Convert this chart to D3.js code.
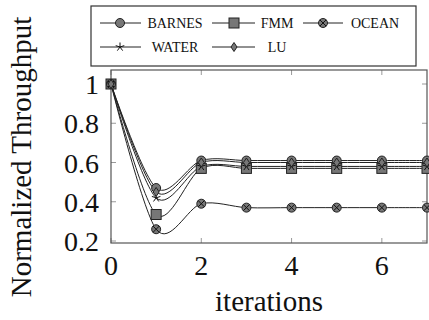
<!DOCTYPE html>
<html><head><meta charset="utf-8">
<script src="https://cdn.jsdelivr.net/npm/d3@7"></script>
<style>body{margin:0;background:#fff}svg{display:block}</style>
</head><body>
<svg id="c" width="429" height="320"></svg>
<script>
const iterations = [0,1,2,3,4,5,6,7];
const seriesNames = ["BARNES","FMM","OCEAN","WATER","LU"];
const barnes = [1,0.47,0.61,0.61,0.61,0.61,0.61,0.61];
const fmm    = [1,0.335,0.57,0.57,0.57,0.57,0.57,0.57];
const ocean  = [1,0.26,0.39,0.37,0.37,0.37,0.37,0.37];
const water  = [1,0.42,0.58,0.58,0.58,0.58,0.58,0.58];
const lu     = [1,0.45,0.60,0.60,0.60,0.60,0.60,0.60];
const xTicks = [0,2,4,6];
const yTicks = [0.2,0.4,0.6,0.8,1];
const yTickLabels = ["0.2","0.4","0.6","0.8","1"];
const markers = ["circle","square","otimes","star","diamond"];
const values = [barnes,fmm,ocean,water,lu];

const svg = d3.select("#c");
const L=111,R=427,T=70,B=243;
const x = d3.scaleLinear().domain([0,7]).range([L,R]);
const y = d3.scaleLinear().domain([0.2,1]).range([241,84]);
const font="'Liberation Serif','Times New Roman',serif";
const tickCol="#999", axisCol="#555";

// ticks (inward)
const g=svg.append("g");
xTicks.forEach(t=>{
  g.append("line").attr("x1",x(t)).attr("x2",x(t)).attr("y1",B).attr("y2",B-5).attr("stroke",tickCol);
  g.append("line").attr("x1",x(t)).attr("x2",x(t)).attr("y1",T).attr("y2",T+5).attr("stroke",tickCol);
  g.append("text").attr("x",x(t)).attr("y",275).attr("text-anchor","middle")
   .attr("font-family",font).attr("font-size",28).attr("fill","#111").text(t);
});
yTicks.forEach((t,i)=>{
  g.append("line").attr("x1",L).attr("x2",L+5).attr("y1",y(t)).attr("y2",y(t)).attr("stroke",tickCol);
  g.append("line").attr("x1",R-5).attr("x2",R).attr("y1",y(t)).attr("y2",y(t)).attr("stroke",tickCol);
  g.append("text").attr("x",99).attr("y",y(t)+10).attr("text-anchor","end")
   .attr("font-family",font).attr("font-size",28).attr("fill","#111").text(yTickLabels[i]);
});
svg.append("rect").attr("x",L).attr("y",T).attr("width",R-L).attr("height",B-T)
  .attr("fill","none").attr("stroke",axisCol).attr("stroke-width",1.2);

function drawMarker(sel,type,cx,cy){
  const st={stroke:"#222","stroke-width":1,fill:"#777"};
  const a=(e)=>{Object.entries(st).forEach(([k,v])=>e.attr(k,v));return e;};
  if(type==="circle"){a(sel.append("circle").attr("cx",cx).attr("cy",cy).attr("r",4.5));}
  else if(type==="square"){a(sel.append("rect").attr("x",cx-5).attr("y",cy-5).attr("width",10).attr("height",10));}
  else if(type==="otimes"){a(sel.append("circle").attr("cx",cx).attr("cy",cy).attr("r",4.5));
    const d=3.2;
    sel.append("path").attr("d",`M${cx-d},${cy-d}L${cx+d},${cy+d}M${cx-d},${cy+d}L${cx+d},${cy-d}`).attr("stroke","#111").attr("stroke-width",1);}
  else if(type==="star"){let p="";for(let k=0;k<5;k++){const an=-Math.PI/2+k*2*Math.PI/5;p+=`M${cx},${cy}L${cx+4.5*Math.cos(an)},${cy+4.5*Math.sin(an)}`;}
    sel.append("path").attr("d",p).attr("stroke","#111").attr("stroke-width",1);}
  else if(type==="diamond"){a(sel.append("path").attr("d",`M${cx},${cy-4.5}L${cx+3},${cy}L${cx},${cy+4.5}L${cx-3},${cy}Z`));}
}

const line=d3.line().x((d,i)=>x(iterations[i])).y(d=>y(d)).curve(d3.curveCardinal.tension(0.1));
values.forEach((v,si)=>{
  svg.append("path").attr("d",line(v)).attr("fill","none").attr("stroke","#222").attr("stroke-width",1);
});
values.forEach((v,si)=>{
  const mg=svg.append("g");
  v.forEach((d,i)=>drawMarker(mg,markers[si],x(iterations[i]),y(d)));
});

// legend
svg.append("rect").attr("x",91).attr("y",6).attr("width",325).attr("height",60)
  .attr("fill","#fff").attr("stroke","#333").attr("stroke-width",1.2);
const cols=[{l:100,r:141,m:120,t:175},{l:212,r:255,m:234,t:277},{l:303,r:343,m:323,t:375}];
const rows=[23,47];
seriesNames.forEach((n,i)=>{
  const c=cols[i%3], ry=rows[Math.floor(i/3)];
  svg.append("line").attr("x1",c.l).attr("x2",c.r).attr("y1",ry).attr("y2",ry).attr("stroke","#222");
  drawMarker(svg,markers[i],c.m,ry);
  svg.append("text").attr("x",c.t).attr("y",ry+5).attr("text-anchor","middle")
   .attr("font-family",font).attr("font-size",14).attr("fill","#111").text(n);
});

svg.append("text").attr("x",269).attr("y",311).attr("text-anchor","middle")
  .attr("font-family",font).attr("font-size",29).attr("fill","#111").text("iterations");
svg.append("text").attr("transform","translate(31,157) rotate(-90)").attr("text-anchor","middle")
  .attr("font-family",font).attr("font-size",29).attr("fill","#111").text("Normalized Throughput");
</script>
</body></html>
